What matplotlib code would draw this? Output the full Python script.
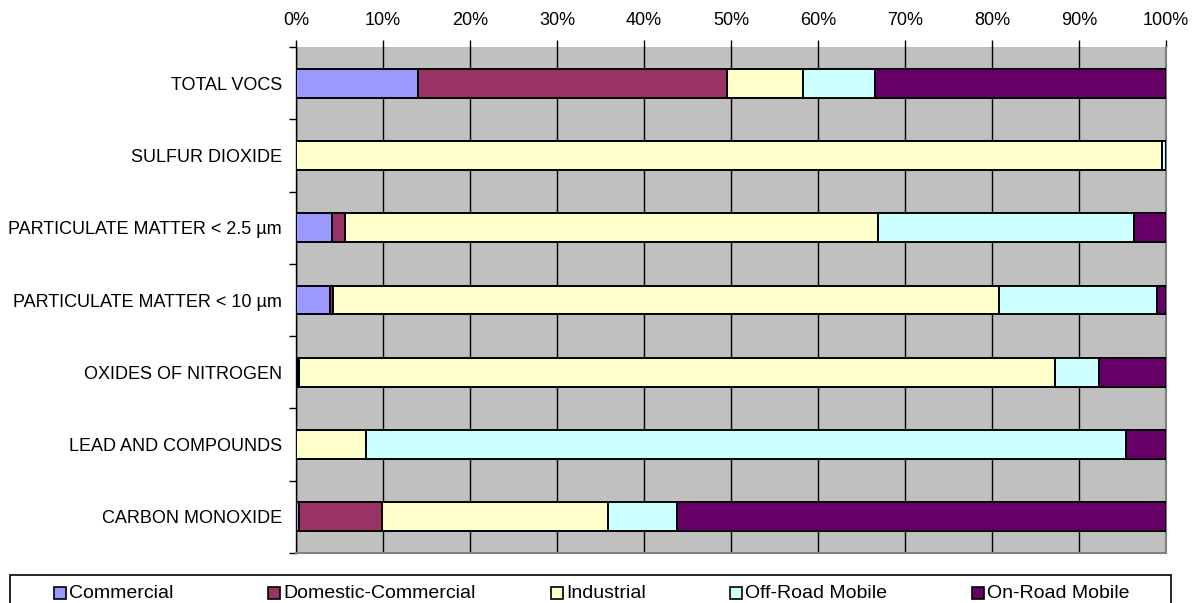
import matplotlib
matplotlib.use("Agg")
import matplotlib.pyplot as plt
from matplotlib.patches import Rectangle
from matplotlib.ticker import FixedLocator, FuncFormatter
import numpy as np

plt.rcParams['font.family'] = ['Liberation Sans', 'DejaVu Sans']

# pollutant categories, top to bottom
pollutants = ["TOTAL VOCS", "SULFUR DIOXIDE", "PARTICULATE MATTER < 2.5 \u00b5m",
              "PARTICULATE MATTER < 10 \u00b5m", "OXIDES OF NITROGEN",
              "LEAD AND COMPOUNDS", "CARBON MONOXIDE"]

# share of emissions by source (percent)
commercial = [14.0, 0.0, 4.1, 3.9, 0.2, 0.0, 0.3]
domestic = [35.5, 0.0, 1.5, 0.4, 0.2, 0.0, 9.6]
industrial = [8.8, 99.5, 61.3, 76.5, 86.8, 8.0, 26.0]
offroad = [8.3, 0.5, 29.4, 18.2, 5.1, 87.4, 7.9]
onroad = [33.4, 0.0, 3.7, 1.0, 7.7, 4.6, 56.2]

sources = ["Commercial", "Domestic-Commercial", "Industrial", "Off-Road Mobile", "On-Road Mobile"]
colors = ["#9999FF", "#993366", "#FFFFCC", "#CCFFFF", "#660066"]

W, H = 1198, 603
fig = plt.figure(figsize=(W / 100, H / 100), dpi=100)
ax = fig.add_axes([296 / W, 1 - 553 / H, 870 / W, 506 / H])
ax.set_facecolor("#C0C0C0")

y = np.arange(len(pollutants))
left = np.zeros(len(pollutants))
for vals, c in zip([commercial, domestic, industrial, offroad, onroad], colors):
    ax.barh(y, vals, left=left, height=0.4, color=c, edgecolor="black",
            linewidth=1.4, zorder=3)
    left += np.array(vals)

ax.set_xlim(0, 100)
ax.set_ylim(len(pollutants) - 0.5, -0.5)

# vertical grid at every 10%
ax.set_xticks(np.arange(0, 101, 10))
ax.xaxis.set_major_formatter(FuncFormatter(lambda v, p: "%d%%" % v))
ax.xaxis.tick_top()
ax.tick_params(axis="x", direction="out", length=5, width=1, pad=8,
               labelsize=13, color="black")
ax.grid(axis="x", color="black", linewidth=1, zorder=1)
ax.set_axisbelow(True)

ax.set_yticks(y)
ax.set_yticklabels(pollutants)
ax.tick_params(axis="y", which="major", length=0, pad=10, labelsize=13)
ax.yaxis.set_minor_locator(FixedLocator(np.arange(-0.5, len(pollutants), 1)))
ax.tick_params(axis="y", which="minor", length=5, width=1, direction="out")

ax.spines["top"].set_visible(False)
ax.spines["left"].set_color("black")
ax.spines["left"].set_linewidth(1)
ax.spines["right"].set_color("#808080")
ax.spines["bottom"].set_color("#808080")
ax.spines["right"].set_linewidth(1.5)
ax.spines["bottom"].set_linewidth(1.5)

# legend box along the bottom edge
fig.add_artist(Rectangle((10 / W, -0.02), 1161 / W, (H - 575) / H + 0.02,
                         transform=fig.transFigure, facecolor="white",
                         edgecolor="black", linewidth=1.2))
entry_x = [54, 268, 551, 730, 972]
ly = 593
for ex, name, c in zip(entry_x, sources, colors):
    fig.add_artist(Rectangle((ex / W, (H - ly - 6) / H), 12 / W, 12 / H,
                             transform=fig.transFigure, facecolor=c,
                             edgecolor="black", linewidth=1.2))
    fig.text((ex + 15) / W, (H - ly) / H, name, fontsize=14,
             ha="left", va="center")

fig.savefig("out.png", dpi=100)
